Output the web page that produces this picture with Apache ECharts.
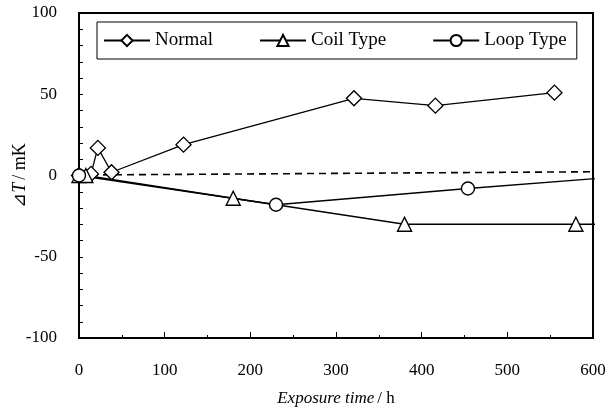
<!DOCTYPE html>
<html>
<head>
<meta charset="utf-8">
<script src="https://cdn.jsdelivr.net/npm/echarts@6/dist/echarts.min.js"></script>
<style>
  html, body { margin: 0; padding: 0; background: #fff; }
  #main { width: 606px; height: 414px; }
</style>
</head>
<body>
<div id="main"></div>
<script>
// data: [exposure time h, dT mK]
var normalData = [[0, 0], [14, 1], [22, 17], [38, 2], [122, 19], [321, 47.5], [416, 43], [555, 51]];
var coilData = [[0, 0], [8, 0], [180, -14], [380, -30], [580, -30], [620, -30]];
var loopData = [[0, 0], [230, -18], [454, -8], [650, 0]];
var baseData = [[0, 0.3], [600, 2.3]];

var xTicks = [0, 100, 200, 300, 400, 500, 600];
var yTicks = [-100, -50, 0, 50, 100];

var seriesNames = ['Normal', 'Coil Type', 'Loop Type'];

var serif = 'Liberation Serif';

function makeSeries(name, data, symbol, size) {
  return {
    name: name,
    type: 'line',
    data: data,
    symbol: symbol,
    symbolSize: size,
    showAllSymbol: true,
    clip: true,
    z: 3,
    lineStyle: { color: '#000', width: 1.3 },
    itemStyle: { color: '#fff', borderColor: '#000', borderWidth: 1.4 },
    emphasis: { disabled: true }
  };
}

var chart = echarts.init(document.getElementById('main'));

var option = {
  animation: false,
  backgroundColor: '#fff',
  textStyle: { fontFamily: serif, color: '#000' },
  grid: {
    left: 79, right: 13, top: 13, bottom: 76,
    outerBoundsMode: 'none',
    containLabel: false,
    show: true, borderColor: '#000', borderWidth: 2
  },
  legend: {
    data: seriesNames,
    left: 97, top: 22,
    padding: [9, 10, 9, 6],
    itemGap: 46,
    itemWidth: 46,
    itemHeight: 14,
    borderColor: '#000',
    borderWidth: 1,
    textStyle: { fontFamily: serif, fontSize: 19, color: '#000' }
  },
  xAxis: {
    type: 'value',
    min: xTicks[0], max: xTicks[xTicks.length - 1], interval: 100,
    name: '{i|Exposure time} {n|/ h}',
    nameLocation: 'middle',
    nameMoveOverlap: false,
    nameGap: 52,
    nameTextStyle: {
      rich: {
        i: { fontFamily: serif, fontSize: 17, fontStyle: 'italic', color: '#000' },
        n: { fontFamily: serif, fontSize: 17, color: '#000' }
      }
    },
    axisLine: { onZero: false, lineStyle: { color: '#000', width: 2 } },
    axisTick: { inside: true, length: 6, lineStyle: { color: '#000', width: 1 } },
    minorTick: { show: true, splitNumber: 2, length: 3, lineStyle: { color: '#000' } },
    splitLine: { show: false },
    axisLabel: { margin: 24, fontFamily: serif, fontSize: 17, color: '#000' }
  },
  yAxis: {
    type: 'value',
    min: yTicks[0], max: yTicks[yTicks.length - 1], interval: 50,
    name: '{n|⊿}{i|T} {n|/ mK}',
    nameLocation: 'middle',
    nameMoveOverlap: false,
    nameGap: 50,
    nameRotate: 90,
    nameTextStyle: {
      rich: {
        i: { fontFamily: serif, fontSize: 18, fontStyle: 'italic', color: '#000' },
        n: { fontFamily: serif, fontSize: 18, color: '#000' }
      }
    },
    axisLine: { onZero: false, lineStyle: { color: '#000', width: 2 } },
    axisTick: { inside: true, length: 4, lineStyle: { color: '#000', width: 1 } },
    minorTick: { show: true, splitNumber: 5, length: 4, lineStyle: { color: '#000' } },
    splitLine: { show: false },
    axisLabel: { margin: 22, fontFamily: serif, fontSize: 17, color: '#000' }
  },
  series: [
    {
      name: 'base',
      type: 'line',
      data: baseData,
      symbol: 'none',
      z: 2,
      lineStyle: { color: '#000', width: 1.6, type: [7, 5] },
      emphasis: { disabled: true }
    },
    makeSeries('Normal', normalData, 'diamond', 15),
    makeSeries('Coil Type', coilData, 'triangle', 14),
    makeSeries('Loop Type', loopData, 'circle', 13)
  ]
};

chart.setOption(option);
</script>
</body>
</html>
